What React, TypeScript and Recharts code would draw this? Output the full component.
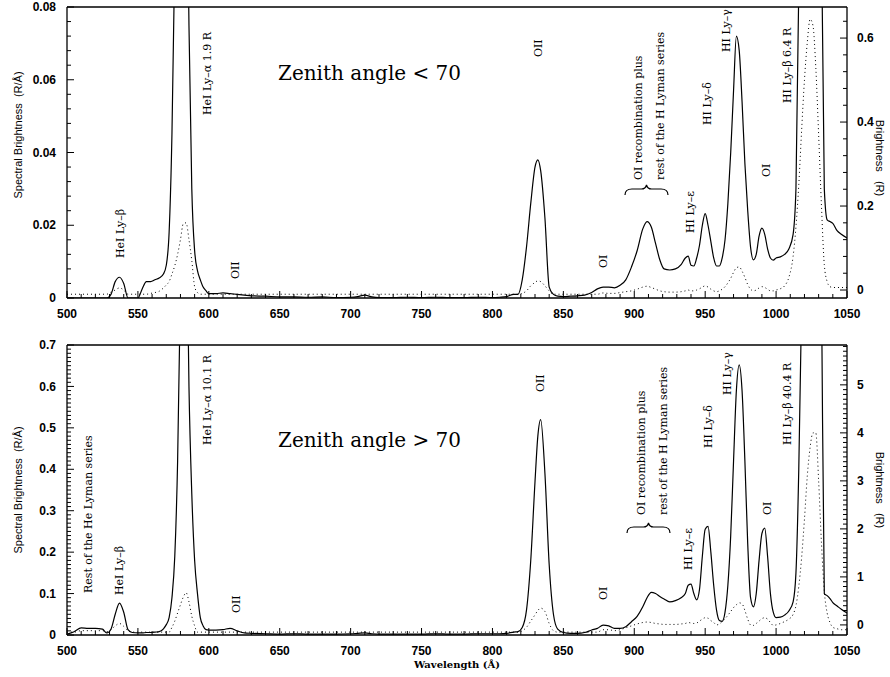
import { LineChart, Line, XAxis, YAxis, ReferenceLine } from "recharts";

// wavelength grid (Å), shared by both panels
const wavelength = [
  500, 505, 510, 515, 520, 525, 528, 531, 534, 537, 540, 543,
  546, 550, 553, 556, 559, 562, 565, 568, 570, 572, 574, 576,
  578, 580, 582, 584, 586, 588, 590, 592, 594, 596, 598, 600,
  605, 610, 615, 620, 625, 630, 640, 650, 660, 670, 680, 690, 700, 705,
  710, 715, 720, 730, 740, 750, 760, 770, 780, 790, 800, 805, 810, 815,
  818, 821, 824, 827, 830, 832, 834, 837,
  840, 843, 846, 850, 855, 860, 865, 870,
  874, 878, 882, 886, 890, 894, 898, 902, 906, 909, 912, 915,
  918, 921, 925, 929, 933, 936, 938, 940, 942, 944, 946, 948,
  950, 952, 954, 956, 958, 960, 962, 964, 966, 968, 970, 972,
  974, 976, 978, 980, 982, 984, 986, 988, 990, 992, 994, 996,
  998, 1000, 1003, 1006, 1009, 1012, 1014, 1016, 1018, 1020, 1022, 1024,
  1026, 1028, 1030, 1032, 1034, 1036, 1038, 1040, 1043, 1046, 1050,
];

// zenith angle < 70 : spectral brightness (R/Å), solid
const topSpectrum = [
  0, 0, 0, 0, 0, 0, 0, 0.001, 0.0045, 0.0057, 0.004, 0,
  0, 0, 0.0025, 0.0045, 0.0045, 0.005, 0.0055, 0.0066, 0.009, 0.018, 0.045, 0.095,
  0.15, 0.19, 0.19, 0.14, 0.075, 0.03, 0.013, 0.0075, 0.005, 0.003, 0.002, 0.0012,
  0.0012, 0.0014, 0.0012, 0.001, 0.0008, 0.0006, 0.0005, 0.0003, 0.0003, 0.0002, 0.0003, 0.0001, 0.0002, 0.0004,
  0.0008, 0.0003, 0.0001, 0.0001, 0.0002, 0.0001, 0.0002, 0.0001, 0.0001, 0.0002, 0.0001, 0.0002, 0.0004, 0.001,
  0.001, 0.005, 0.014, 0.026, 0.036, 0.038, 0.035, 0.022,
  0.003, 0.001, 0.0005, 0.0004, 0.0005, 0.0006, 0.0008, 0.0015,
  0.0025, 0.003, 0.003, 0.0028, 0.0035, 0.005, 0.0085, 0.013, 0.019, 0.021, 0.0195, 0.015,
  0.0105, 0.008, 0.0077, 0.008, 0.0092, 0.011, 0.0115, 0.009, 0.0088, 0.011, 0.0145, 0.02,
  0.0232, 0.02, 0.0155, 0.011, 0.0088, 0.0088, 0.011, 0.016, 0.026, 0.04, 0.057, 0.072,
  0.068, 0.054, 0.037, 0.024, 0.014, 0.0105, 0.012, 0.017, 0.0192, 0.0175, 0.0135, 0.011,
  0.0104, 0.011, 0.0113, 0.012, 0.0135, 0.0175, 0.03, 0.085, 0.18, 0.3, 0.4, 0.45,
  0.44, 0.36, 0.22, 0.1, 0.03, 0.0215, 0.021, 0.0205, 0.0185, 0.0175, 0.0165,
];

// zenith angle < 70 : brightness (R), dotted
const topBrightness = [
  -0.01, -0.01, -0.01, -0.01, -0.01, -0.01, -0.01, -0.005, 0, 0.005, 0, -0.01,
  -0.01, -0.01, -0.01, -0.01, -0.008, -0.006, -0.003, 0.005, 0.012, 0.02, 0.038, 0.058,
  0.085, 0.12, 0.158, 0.16, 0.12, 0.07, 0.008, -0.006, -0.01, -0.01, -0.01, -0.01,
  -0.01, -0.01, -0.01, -0.01, -0.01, -0.01, -0.01, -0.01, -0.01, -0.01, -0.01, -0.01, -0.01, -0.01,
  -0.01, -0.01, -0.01, -0.01, -0.01, -0.01, -0.01, -0.01, -0.01, -0.01, -0.01, -0.01, -0.01, -0.01,
  -0.01, -0.008, -0.002, 0.01, 0.018, 0.022, 0.02, 0.01,
  -0.002, -0.01, -0.01, -0.01, -0.01, -0.01, -0.01, -0.01,
  -0.01, -0.007, -0.008, -0.008, -0.006, -0.004, -0.002, 0.002, 0.007, 0.009, 0.006, 0.002,
  -0.002, -0.004, -0.005, -0.005, -0.004, -0.002, 0, -0.002, -0.002, 0, 0.003, 0.007,
  0.01, 0.007, 0.002, -0.002, -0.004, -0.002, 0.002, 0.008, 0.017, 0.028, 0.042, 0.053,
  0.055, 0.045, 0.03, 0.013, 0.002, -0.002, 0, 0.005, 0.008, 0.006, 0.002, -0.002,
  -0.002, 0, 0.003, 0.01, 0.03, 0.08, 0.15, 0.25, 0.38, 0.5, 0.59, 0.645,
  0.63, 0.53, 0.37, 0.2, 0.06, 0.02, 0.008, 0.006, 0.006, 0.006, 0.006,
];

// zenith angle > 70 : spectral brightness (R/Å), solid
const bottomSpectrum = [
  0.002, 0.008, 0.017, 0.016, 0.016, 0.014, 0.005, 0.014, 0.05, 0.077, 0.055, 0.013,
  0.006, 0.005, 0.005, 0.006, 0.006, 0.007, 0.008, 0.015, 0.025, 0.042, 0.09, 0.19,
  0.42, 0.85, 1.3, 1.1, 0.6, 0.34, 0.18, 0.1, 0.042, 0.022, 0.013, 0.012,
  0.012, 0.013, 0.016, 0.01, 0.005, 0.004, 0.003, 0.002, 0.003, 0.002, 0.002, 0.002, 0.003, 0.004,
  0.005, 0.003, 0.002, 0.002, 0.002, 0.002, 0.003, 0.002, 0.002, 0.003, 0.003, 0.003, 0.004, 0.007,
  0.008, 0.018, 0.06, 0.18, 0.37, 0.48, 0.52, 0.39,
  0.17, 0.05, 0.014, 0.006, 0.004, 0.004, 0.006, 0.012,
  0.016, 0.024, 0.022, 0.016, 0.016, 0.02, 0.032, 0.045, 0.068, 0.09, 0.103, 0.1,
  0.093, 0.087, 0.08, 0.083, 0.09, 0.1, 0.12, 0.123, 0.1, 0.085, 0.11, 0.19,
  0.255, 0.262, 0.2, 0.12, 0.06, 0.035, 0.033, 0.055, 0.12, 0.24, 0.42, 0.59,
  0.652, 0.59, 0.42, 0.22, 0.09, 0.068, 0.1, 0.18, 0.245, 0.258, 0.19, 0.1,
  0.055, 0.042, 0.043, 0.048, 0.058, 0.08, 0.15, 0.4, 0.8, 1.5, 2.2, 2.7,
  2.7, 2.2, 1.4, 0.85, 0.1, 0.095, 0.088, 0.078, 0.07, 0.062, 0.053,
];

// zenith angle > 70 : brightness (R), dotted
const bottomBrightness = [
  -0.15, -0.15, -0.12, -0.12, -0.12, -0.12, -0.14, -0.1, -0.02, 0.03, -0.03, -0.12,
  -0.15, -0.15, -0.15, -0.15, -0.15, -0.15, -0.15, -0.15, -0.15, -0.15, -0.05, 0.08,
  0.25, 0.42, 0.58, 0.67, 0.48, 0.18, -0.02, -0.15, -0.15, -0.15, -0.15, -0.15,
  -0.15, -0.15, -0.15, -0.15, -0.15, -0.15, -0.15, -0.15, -0.15, -0.15, -0.15, -0.15, -0.15, -0.15,
  -0.15, -0.15, -0.15, -0.15, -0.15, -0.15, -0.15, -0.15, -0.15, -0.15, -0.15, -0.15, -0.15, -0.15,
  -0.15, -0.12, -0.05, 0.08, 0.21, 0.3, 0.35, 0.28,
  0.03, -0.12, -0.15, -0.15, -0.15, -0.15, -0.15, -0.15,
  -0.15, -0.1, -0.1, -0.12, -0.1, -0.06, -0.02, 0.02, 0.05, 0.06, 0.05, 0.03,
  0.02, 0.01, 0.01, 0.01, 0.02, 0.03, 0.05, 0.04, 0.03, 0.04, 0.08, 0.12,
  0.15, 0.14, 0.09, 0.05, 0, 0.02, 0.07, 0.13, 0.2, 0.28, 0.36, 0.42,
  0.46, 0.44, 0.3, 0.12, 0, -0.01, 0.03, 0.08, 0.13, 0.15, 0.12, 0.05,
  -0.01, 0, 0.03, 0.07, 0.12, 0.22, 0.4, 0.8, 1.4, 2.2, 3.1, 3.7,
  4.0, 4.0, 3.0, 1.7, 0.7, 0.25, 0.05, -0.05, -0.08, -0.1, -0.1,
];

// tick labels
const xMajor = [500, 550, 600, 650, 700, 750, 800, 850, 900, 950, 1000, 1050];
const topLeftMajor = [0, 0.02, 0.04, 0.06, 0.08];
const topRightMajor = [0, 0.2, 0.4, 0.6];
const bottomLeftMajor = [0, 0.1, 0.2, 0.3, 0.4, 0.5, 0.6, 0.7];
const bottomRightMajor = [0, 1, 2, 3, 4, 5];

const steps = (from: number, to: number, step: number) => {
  const out: number[] = [];
  for (let i = 0; from + i * step <= to + 1e-9; i++) out.push(+(from + i * step).toFixed(4));
  return out;
};

const xTicks = steps(500, 1050, 10);
const PLOT_LEFT = 67;
const PLOT_RIGHT = 847;
const TICK_FONT = "'Liberation Sans', Arial, sans-serif";
const SERIF = "'DejaVu Serif', serif";

const isMajor = (v: number, majors: number[]) => majors.some((m) => Math.abs(m - v) < 1e-6);

const XTick = ({ x, payload, axisY }: any) => {
  const major = isMajor(payload.value, xMajor);
  return (
    <g>
      <line x1={x} x2={x} y1={axisY} y2={axisY - (major ? 7 : 4)} stroke="#000" strokeWidth={1} />
      {major && (
        <text x={x} y={axisY + 20} textAnchor="middle" fontFamily={TICK_FONT} fontWeight="bold" fontSize={12} fill="#000">
          {payload.value}
        </text>
      )}
    </g>
  );
};

const LeftTick = ({ y, payload, majors }: any) => {
  const major = isMajor(payload.value, majors);
  return (
    <g>
      <line x1={PLOT_LEFT} x2={PLOT_LEFT + (major ? 7 : 4)} y1={y} y2={y} stroke="#000" strokeWidth={1} />
      {major && (
        <text x={PLOT_LEFT - 11} y={y} dy="0.35em" textAnchor="end" fontFamily={TICK_FONT} fontWeight="bold" fontSize={12} fill="#000">
          {payload.value}
        </text>
      )}
    </g>
  );
};

const RightTick = ({ y, payload, majors }: any) => {
  const major = isMajor(payload.value, majors);
  return (
    <g>
      <line x1={PLOT_RIGHT} x2={PLOT_RIGHT - (major ? 7 : 4)} y1={y} y2={y} stroke="#000" strokeWidth={1} />
      {major && (
        <text x={PLOT_RIGHT + 10} y={y} dy="0.35em" textAnchor="start" fontFamily={TICK_FONT} fontWeight="bold" fontSize={12} fill="#000">
          {payload.value}
        </text>
      )}
    </g>
  );
};

interface PanelProps {
  top: number;
  height: number;
  marginTop: number;
  axisY: number;
  spectrum: number[];
  brightness: number[];
  leftDomain: [number, number];
  leftStep: number;
  leftMajor: number[];
  rightDomain: [number, number];
  rightStep: number;
  rightMajor: number[];
}

function Panel(p: PanelProps) {
  const data = wavelength.map((w, i) => ({ w, s: p.spectrum[i], b: p.brightness[i] }));
  const xHeight = p.height - p.axisY;
  const axisLine = { stroke: "#000", strokeWidth: 1.3 };
  return (
    <div style={{ position: "absolute", left: 0, top: p.top, width: 890, height: p.height }}>
      <LineChart width={890} height={p.height} data={data} margin={{ top: p.marginTop, right: 0, bottom: 0, left: 0 }}>
        <XAxis
          dataKey="w"
          type="number"
          domain={[500, 1050]}
          ticks={xTicks}
          interval={0}
          allowDataOverflow
          height={xHeight}
          axisLine={axisLine}
          tickLine={false}
          tick={<XTick axisY={p.axisY} />}
        />
        <YAxis
          yAxisId="l"
          type="number"
          domain={p.leftDomain}
          ticks={steps(p.leftDomain[0], p.leftDomain[1], p.leftStep)}
          interval={0}
          allowDataOverflow
          width={PLOT_LEFT}
          axisLine={axisLine}
          tickLine={false}
          tick={<LeftTick majors={p.leftMajor} />}
        />
        <YAxis
          yAxisId="r"
          orientation="right"
          type="number"
          domain={p.rightDomain}
          ticks={steps(0, p.rightDomain[1], p.rightStep)}
          interval={0}
          allowDataOverflow
          width={890 - PLOT_RIGHT}
          axisLine={axisLine}
          tickLine={false}
          tick={<RightTick majors={p.rightMajor} />}
        />
        <ReferenceLine yAxisId="l" y={p.leftDomain[1]} stroke="#000" strokeWidth={1.3} />
        <Line
          yAxisId="r"
          dataKey="b"
          type="monotone"
          stroke="#000"
          strokeWidth={1}
          strokeDasharray="1 3"
          dot={false}
          isAnimationActive={false}
        />
        <Line
          yAxisId="l"
          dataKey="s"
          type="monotone"
          stroke="#000"
          strokeWidth={1.2}
          dot={false}
          isAnimationActive={false}
        />
      </LineChart>
    </div>
  );
}

// rotated line annotations: x = column centre, y = where the text starts (bottom)
const topNotes = [
  { text: "HeI Ly–β", x: 120, y: 258 },
  { text: "HeI Ly–α 1.9 R", x: 207, y: 115 },
  { text: "OII", x: 235, y: 279 },
  { text: "OII", x: 538, y: 57 },
  { text: "OI", x: 603, y: 268 },
  { text: "OI recombination plus", x: 638, y: 180 },
  { text: "rest of the H Lyman series", x: 660, y: 180 },
  { text: "HI Ly–ε", x: 690, y: 233 },
  { text: "HI Ly–δ", x: 707, y: 125 },
  { text: "HI Ly–γ", x: 726, y: 52 },
  { text: "OI", x: 766, y: 177 },
  { text: "HI Ly–β 6.4 R", x: 787, y: 103 },
];

const bottomNotes = [
  { text: "Rest of the He Lyman series", x: 88, y: 593 },
  { text: "HeI Ly–β", x: 119, y: 595 },
  { text: "HeI Ly–α 10.1 R", x: 207, y: 445 },
  { text: "OII", x: 236, y: 613 },
  { text: "OII", x: 540, y: 392 },
  { text: "OI", x: 603, y: 600 },
  { text: "OI recombination plus", x: 641, y: 515 },
  { text: "rest of the H Lyman series", x: 663, y: 515 },
  { text: "HI Ly–ε", x: 688, y: 570 },
  { text: "HI Ly–δ", x: 708, y: 448 },
  { text: "HI Ly–γ", x: 727, y: 395 },
  { text: "OI", x: 767, y: 515 },
  { text: "HI Ly–β 40.4 R", x: 787, y: 445 },
];

const brace = (x0: number, x1: number, y: number) => {
  const m = (x0 + x1) / 2;
  return `M${x0},${y + 6} Q${x0},${y} ${x0 + 7},${y} L${m - 5},${y} Q${m - 1},${y} ${m},${y - 4} Q${m + 1},${y} ${m + 5},${y} L${x1 - 7},${y} Q${x1},${y} ${x1},${y + 6}`;
};

function Annotations() {
  const notes = [...topNotes, ...bottomNotes];
  return (
    <svg width={890} height={677} style={{ position: "absolute", left: 0, top: 0, pointerEvents: "none" }}>
      {notes.map((n, i) => (
        <text
          key={i}
          x={n.x}
          y={n.y}
          transform={`rotate(-90 ${n.x} ${n.y})`}
          dominantBaseline="central"
          fontFamily={SERIF}
          fontSize={11}
          fill="#000"
        >
          {n.text}
        </text>
      ))}
      <path d={brace(625, 668, 189)} fill="none" stroke="#000" strokeWidth={1.2} />
      <path d={brace(627, 670, 527)} fill="none" stroke="#000" strokeWidth={1.2} />
      <text x={278} y={80} fontFamily={SERIF} fontSize={20} fill="#000">{"Zenith angle < 70"}</text>
      <text x={278} y={447} fontFamily={SERIF} fontSize={20} fill="#000">{"Zenith angle > 70"}</text>
      {[135, 490].map((cy) => (
        <text key={cy} x={18} y={cy} transform={`rotate(-90 18 ${cy})`} textAnchor="middle" dominantBaseline="central" fontFamily={TICK_FONT} fontSize={11} fill="#000">
          {"Spectral Brightness\u00a0\u00a0(R/Å)"}
        </text>
      ))}
      {[158, 490].map((cy) => (
        <text key={cy} x={880} y={cy} transform={`rotate(90 880 ${cy})`} textAnchor="middle" dominantBaseline="central" fontFamily={TICK_FONT} fontSize={11} fill="#000">
          {"Brightness\u00a0\u00a0\u00a0(R)"}
        </text>
      ))}
      <text x={457} y={668} textAnchor="middle" fontFamily={SERIF} fontWeight="bold" fontSize={10} fill="#000">
        Wavelength (Å)
      </text>
    </svg>
  );
}

export default function App() {
  return (
    <div style={{ position: "absolute", left: 0, top: 0, width: 890, height: 677, background: "#fff" }}>
      <Panel
        top={0}
        height={322}
        marginTop={7}
        axisY={298}
        spectrum={topSpectrum}
        brightness={topBrightness}
        leftDomain={[0, 0.08]}
        leftStep={0.004}
        leftMajor={topLeftMajor}
        rightDomain={[-0.019, 0.674]}
        rightStep={0.04}
        rightMajor={topRightMajor}
      />
      <Panel
        top={320}
        height={357}
        marginTop={25}
        axisY={315}
        spectrum={bottomSpectrum}
        brightness={bottomBrightness}
        leftDomain={[0, 0.7]}
        leftStep={0.01}
        leftMajor={bottomLeftMajor}
        rightDomain={[-0.21, 5.83]}
        rightStep={0.1}
        rightMajor={bottomRightMajor}
      />
      <Annotations />
    </div>
  );
}
